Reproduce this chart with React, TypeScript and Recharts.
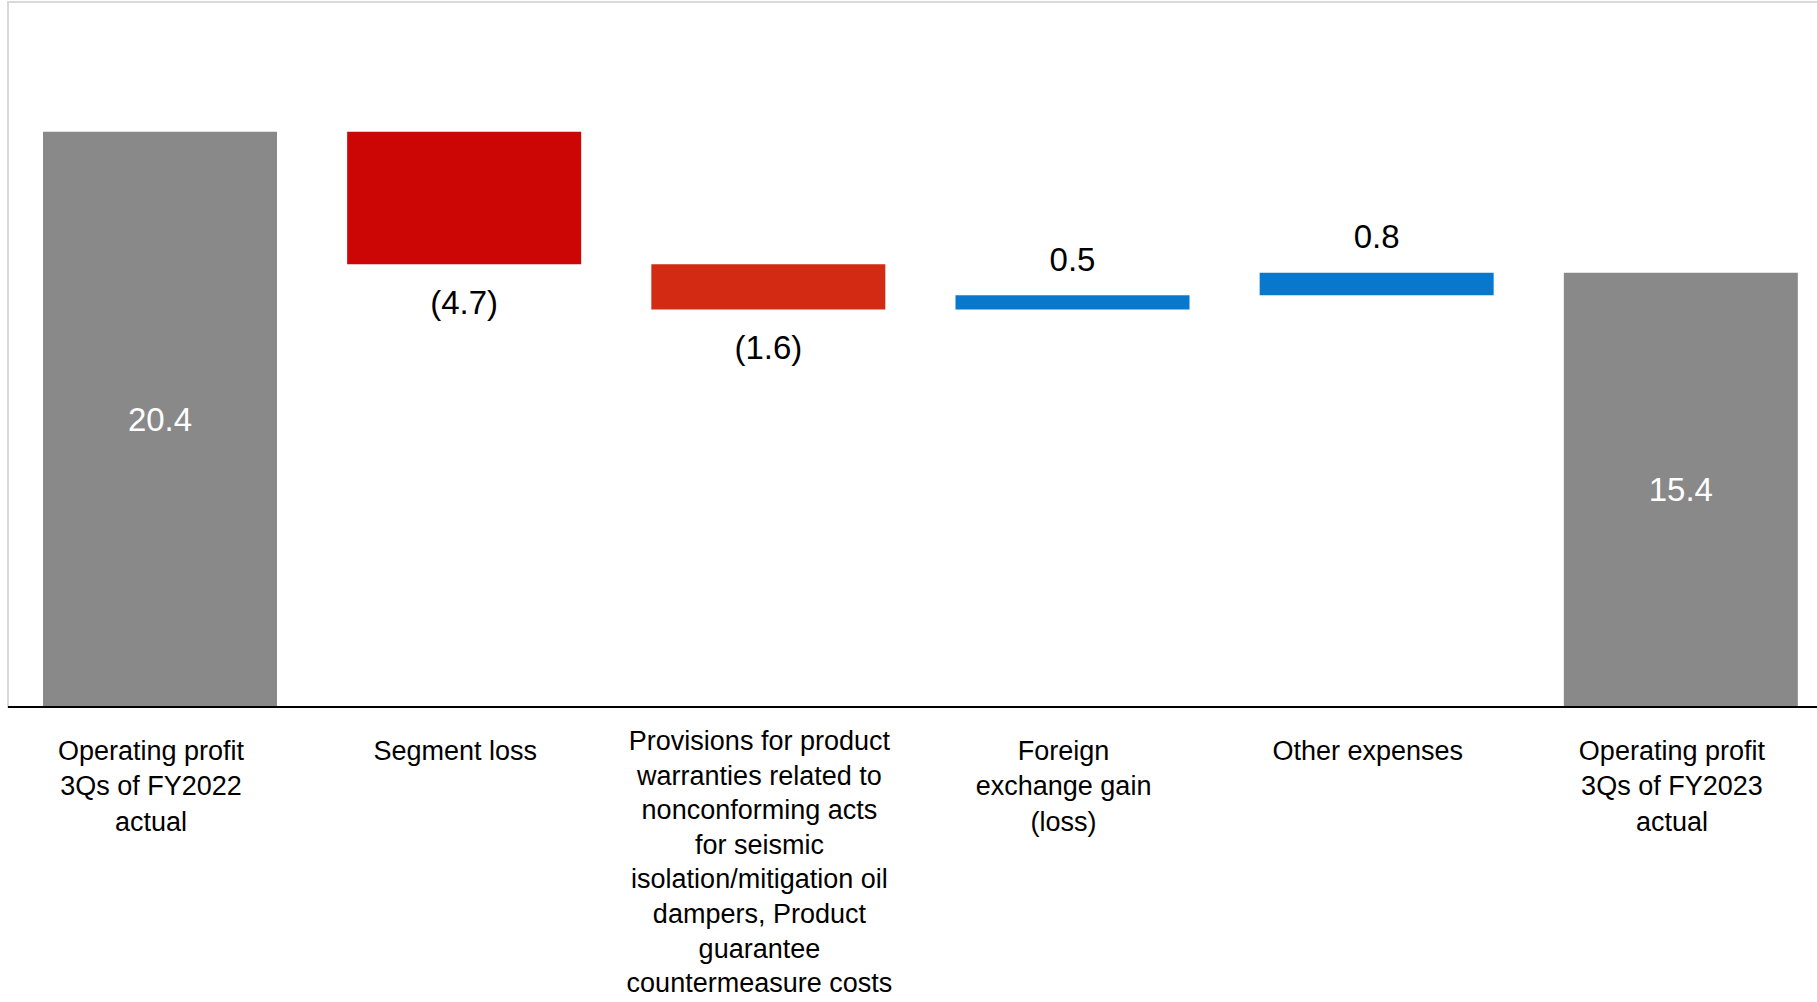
import React from "react";
import {
  Bar,
  BarChart,
  Cell,
  LabelList,
  ReferenceArea,
  XAxis,
  YAxis,
} from "recharts";

const categories = [
  "Operating profit\n3Qs of FY2022\nactual",
  "Segment loss",
  "Provisions for product\nwarranties related to\nnonconforming acts\nfor seismic\nisolation/mitigation oil\ndampers, Product\nguarantee\ncountermeasure costs",
  "Foreign\nexchange gain\n(loss)",
  "Other expenses",
  "Operating profit\n3Qs of FY2023\nactual",
];
const changes = [20.4, -4.7, -1.6, 0.5, 0.8, 15.4];
const kinds = ["total", "delta", "delta", "delta", "delta", "total"];
const valueLabels = ["20.4", "(4.7)", "(1.6)", "0.5", "0.8", "15.4"];
const barColors = ["#898989", "#CC0605", "#D22A13", "#0778CC", "#0778CC", "#898989"];

const FONT = "'Liberation Sans', Arial, sans-serif";

let running = 0;
const rows = categories.map((name, i) => {
  const v = changes[i];
  let range: number[];
  if (kinds[i] === "total") {
    range = [0, v];
    running = v;
  } else {
    const start = running;
    running = Math.round((running + v) * 10) / 10;
    range = [Math.min(start, running), Math.max(start, running)];
  }
  return { name, range, label: valueLabels[i], kind: kinds[i], change: v };
});

// multi-line category label, long ones nudged up a little so they fit
function CategoryTick(props: any) {
  const { x, y, payload } = props;
  const lines = String(payload.value).split("\n");
  const long = lines.length > 4;
  const top = long ? y + 43 : y + 53;
  const step = long ? 34.6 : 35.3;
  return (
    <text
      x={x - 9}
      y={top}
      textAnchor="middle"
      fill="#000"
      fontSize={27}
      fontFamily={FONT}
    >
      {lines.map((ln, i) => (
        <tspan key={i} x={x - 9} dy={i === 0 ? 0 : step}>
          {ln}
        </tspan>
      ))}
    </text>
  );
}

function ValueLabel(props: any) {
  const { index, value } = props;
  const vb = props.viewBox || props;
  const row = rows[index];
  if (!row) return null;
  const top = Math.min(vb.y, vb.y + vb.height);
  const bottom = Math.max(vb.y, vb.y + vb.height);
  const cx = vb.x + vb.width / 2;
  let cy = (top + bottom) / 2;
  let fill = "#fff";
  if (row.kind !== "total") {
    fill = "#000";
    cy = row.change < 0 ? bottom + 38 : top - 36;
  }
  return (
    <text
      x={cx}
      y={cy}
      textAnchor="middle"
      dominantBaseline="central"
      fill={fill}
      fontSize={33}
      fontFamily={FONT}
    >
      {value}
    </text>
  );
}

export default function App() {
  return (
    <div
      style={{
        position: "absolute",
        left: 0,
        top: 0,
        width: 1817,
        height: 1002,
        overflow: "hidden",
        background: "#fff",
      }}
    >
      <BarChart
        width={1840}
        height={1002}
        data={rows}
        margin={{ top: 2, right: 7, bottom: 0, left: 8 }}
      >
        <YAxis hide domain={[0, 25]} />
        <XAxis
          dataKey="name"
          height={295}
          interval={0}
          tickLine={false}
          tickSize={0}
          tickMargin={0}
          axisLine={{ stroke: "#000", strokeWidth: 2 }}
          tick={<CategoryTick />}
        />
        <ReferenceArea
          y1={0}
          y2={25}
          fill="none"
          stroke="#d9d9d9"
          strokeWidth={2}
          ifOverflow="visible"
        />
        <Bar dataKey="range" barSize={234} isAnimationActive={false}>
          {rows.map((r, i) => (
            <Cell key={r.name} fill={barColors[i]} />
          ))}
          <LabelList dataKey="label" content={<ValueLabel />} />
        </Bar>
      </BarChart>
    </div>
  );
}
